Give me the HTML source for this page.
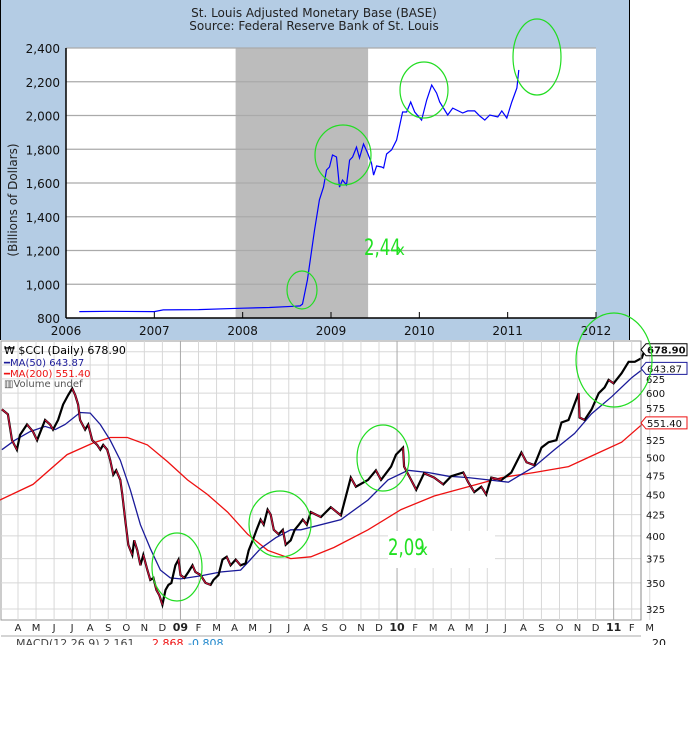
<!DOCTYPE html>
<html><head><meta charset="utf-8">
<style>
html,body{margin:0;padding:0;background:#fff;width:688px;height:733px;overflow:hidden}
svg{display:block;font-family:"DejaVu Sans","Liberation Sans",sans-serif}
</style></head>
<body>
<svg id="chart" width="688" height="733" viewBox="0 0 688 733" xmlns="http://www.w3.org/2000/svg">
<rect x="0" y="0" width="629" height="340" fill="#b4cce4"/>
<line x1="0.5" y1="0" x2="0.5" y2="340" stroke="#000"/>
<line x1="629.5" y1="0" x2="629.5" y2="340" stroke="#000"/>
<text x="314" y="17" font-size="12" text-anchor="middle" fill="#222">St. Louis Adjusted Monetary Base (BASE)</text>
<text x="314" y="30" font-size="12" text-anchor="middle" fill="#222">Source: Federal Reserve Bank of St. Louis</text>
<text transform="translate(17,200) rotate(-90)" font-size="12" text-anchor="middle" fill="#222">(Billions of Dollars)</text>
<g id="topg"></g>
<g id="bottomg"></g>
</svg>
<script>
// ---------- top chart data ----------
const baseYears=[2006.15,2006.5,2007.0,2007.1,2007.5,2008.0,2008.3,2008.6,2008.65,2008.677,2008.733,2008.813,2008.869,2008.915,2008.949,2008.983,2009.017,2009.062,2009.096,2009.130,2009.176,2009.210,2009.244,2009.289,2009.323,2009.368,2009.414,2009.459,2009.482,2009.516,2009.573,2009.595,2009.629,2009.686,2009.743,2009.811,2009.856,2009.902,2009.947,2010.026,2010.083,2010.140,2010.196,2010.230,2010.321,2010.378,2010.491,2010.548,2010.627,2010.684,2010.741,2010.798,2010.888,2010.934,2010.990,2011.047,2011.104,2011.126];
const baseValues=[838,840,838,848,850,858,862,870,872,883,1025,1320,1500,1576,1677,1695,1766,1754,1576,1618,1588,1736,1754,1813,1748,1831,1778,1718,1647,1701,1695,1689,1772,1796,1855,2021,2021,2080,2021,1973,2092,2181,2133,2080,2003,2044,2015,2027,2027,1997,1973,2003,1991,2027,1985,2080,2163,2270];
const topYTicks=[800,1000,1200,1400,1600,1800,2000,2200,2400];
const topYTickLabels=["800","1,000","1,200","1,400","1,600","1,800","2,000","2,200","2,400"];
const topXTicks=[2006,2007,2008,2009,2010,2011,2012];
const recession=[2007.92,2009.42];

// ---------- bottom chart data ----------
const priceMonths=[-0.89,-0.56,-0.33,-0.06,0.11,0.5,0.83,1.06,1.5,1.78,1.94,2.22,2.5,2.78,3.0,3.17,3.33,3.44,3.72,3.89,4.11,4.39,4.56,4.72,4.94,5.11,5.28,5.44,5.67,5.78,5.94,6.11,6.33,6.44,6.61,6.78,6.94,7.17,7.33,7.5,7.67,7.83,8.0,8.17,8.33,8.5,8.72,8.89,9.0,9.22,9.44,9.67,9.83,10.11,10.39,10.67,10.83,11.11,11.33,11.56,11.78,12.06,12.33,12.61,12.78,13.0,13.22,13.44,13.61,13.83,14.0,14.17,14.44,14.67,14.83,15.11,15.33,15.56,15.78,16.0,16.22,16.78,17.33,17.89,18.44,18.72,19.39,19.83,20.11,20.67,20.94,21.33,21.39,21.78,22.06,22.5,23.06,23.56,24.0,24.67,24.94,25.28,25.67,25.94,26.22,26.78,27.33,27.89,28.17,28.61,29.0,29.39,29.83,30.11,30.5,31.06,31.11,31.39,31.78,32.17,32.5,32.72,33.0,33.44,33.83,34.17,34.56,34.72];
const priceValues=[573,565,525,511,533,549,538,525,556,549,541,556,581,597,608,597,581,556,541,549,525,518,511,518,511,496,476,482,469,450,419,390,379,395,384,368,379,363,353,355,343,338,329,343,348,350,368,374,358,355,361,368,361,358,350,348,353,358,374,377,368,374,368,370,384,395,407,419,413,431,425,407,402,407,390,395,407,413,419,413,428,422,434,424,472,460,469,482,469,487,504,514,487,469,456,478,472,463,474,479,466,453,460,450,472,469,479,507,493,489,514,522,525,552,556,600,560,556,573,600,610,623,617,635,656,656,663,678.9];
const ma50Months=[-0.89,-0.17,0.67,1.5,2.06,2.61,3.44,4.0,4.56,5.11,5.67,6.22,6.78,7.33,7.89,8.44,9.0,10.11,11.22,12.33,12.78,13.44,14.28,15.11,15.67,17.89,19.39,20.5,21.61,22.72,23.83,24.94,26.06,27.17,27.72,28.61,29.72,30.83,31.78,32.89,34.0,34.67];
const ma50Values=[511,525,538,546,541,549,568,567,549,525,496,456,413,386,363,355,354,357,361,363,372,386,398,407,407,419,443,469,482,479,474,472,469,466,474,487,511,535,566,594,627,643.87];
const ma200Months=[-1.0,0.83,2.72,4.17,5.11,6.06,7.17,8.28,9.39,10.5,11.61,12.72,13.83,15.11,16.22,17.5,19.39,21.22,23.06,24.94,26.78,28.61,30.5,31.94,33.44,34.67];
const ma200Values=[443,463,504,521,529,529,518,494,469,450,428,402,384,375,377,387,407,431,448,460,472,479,487,504,522,551.4];
const monthLabels=["A","M","J","J","A","S","O","N","D","09","F","M","A","M","J","J","A","S","O","N","D","10","F","M","A","M","J","J","A","S","O","N","D","11","F","M"];
const priceTicks=[325,350,375,400,425,450,475,500,525,550,575,600,625,650,675];
const priceTickLabels=["325","350","375","400","425","450","475","500","525","550","575","600","625","650","675"];
const lastPrice=678.90, lastMa50=643.87, lastMa200=551.40;

const NS="http://www.w3.org/2000/svg";
function mk(tag,attrs,parent,text){const e=document.createElementNS(NS,tag);for(const k in attrs)e.setAttribute(k,attrs[k]);if(text!==undefined)e.textContent=text;parent.appendChild(e);return e;}

// ---------- top chart ----------
const topG=document.getElementById('topg');
const TL=66,TR=596,TT=48,TB=318;
const xT=y=>TL+(y-2006)*(TR-TL)/6;
const yT=v=>TB-(v-800)*(TB-TT)/1600;
let e=mk('rect',{x:TL,y:TT,width:TR-TL,height:TB-TT,fill:'#fff'},topG);

e=mk('rect',{x:xT(recession[0]),y:TT,width:xT(recession[1])-xT(recession[0]),height:TB-TT,fill:'#bcbcbc'},topG);

topYTicks.forEach((t,i)=>{
  if(i>0){const g=mk('line',{x1:TL,x2:TR,y1:yT(t),y2:yT(t),stroke:'#aaa','stroke-width':1.3},topG);
  }
  const l=mk('text',{x:TL-6,y:yT(t)+5,'font-size':12,'text-anchor':'end',fill:'#111'},topG,topYTickLabels[i]);
  
});
topXTicks.forEach(t=>{
  const k=mk('line',{x1:xT(t),x2:xT(t),y1:TB,y2:TB-6,stroke:'#000'},topG);
  
  const l=mk('text',{x:xT(t),y:TB+17,'font-size':12,'text-anchor':'middle',fill:'#111'},topG,String(t));
  
});
e=mk('polyline',{points:baseYears.map((y,i)=>xT(y).toFixed(1)+','+yT(baseValues[i]).toFixed(1)).join(' '),fill:'none',stroke:'#0000ff','stroke-width':1.2},topG);

e=mk('line',{x1:TL,x2:TL,y1:TT,y2:TB,stroke:'#000','stroke-width':1.5},topG);

e=mk('line',{x1:TL,x2:TR,y1:TB,y2:TB,stroke:'#000','stroke-width':1.5},topG);

[[302,290,15,19],[343,155,28,30],[424,90,24,28],[537,57,24,38]].forEach(c=>{
  const o=mk('ellipse',{cx:c[0],cy:c[1],rx:c[2],ry:c[3],fill:'none',stroke:'#22dd22','stroke-width':1.2},topG);
  
});
e=mk('text',{x:364,y:255,'font-size':22,fill:'#22e022',transform:'translate(364,255) scale(0.75,1) translate(-364,-255)'},topG,'2,44');

e=mk('text',{x:396,y:255,'font-size':15,fill:'#22e022'},topG,'x');


// ---------- bottom chart ----------
const botG=document.getElementById('bottomg');
const BL=1,BR=641,BT=341,BB=620;
const xB=m=>18+m*18.05;
const yB=v=>609-352*Math.log(v/325);
e=mk('rect',{x:BL,y:BT,width:BR-BL,height:BB-BT,fill:'#fff',stroke:'#999'},botG);

priceTicks.forEach(t=>{
  const g=mk('line',{x1:BL,x2:BR,y1:yB(t),y2:yB(t),stroke:'#d8d8d8'},botG);
  
});
monthLabels.forEach((lab,i)=>{
  const yr=lab.length===2;
  const g=mk('line',{x1:xB(i),x2:xB(i),y1:BT,y2:BB,stroke:yr?'#aaa':'#d8d8d8'},botG);
  
  const l=mk('text',{x:xB(i),y:631,'font-size':yr?11:10,'font-weight':yr?'bold':'normal','text-anchor':'middle',fill:'#222'},botG,lab);
  
});
priceTicks.forEach((t,i)=>{
  if(t>=650)return;
  const l=mk('text',{x:646,y:yB(t)+4,'font-size':10,fill:'#111'},botG,priceTickLabels[i]);
  
});
e=mk('polyline',{points:ma200Months.map((m,i)=>xB(m).toFixed(1)+','+yB(ma200Values[i]).toFixed(1)).join(' '),fill:'none',stroke:'#ee1111','stroke-width':1.3},botG);

e=mk('polyline',{points:ma50Months.map((m,i)=>xB(m).toFixed(1)+','+yB(ma50Values[i]).toFixed(1)).join(' '),fill:'none',stroke:'#1a1a99','stroke-width':1.3},botG);

e=mk('polyline',{points:priceMonths.map((m,i)=>xB(m).toFixed(1)+','+yB(priceValues[i]).toFixed(1)).join(' '),fill:'none',stroke:'#000','stroke-width':2.2},botG);

for(let i=1;i<priceMonths.length;i++){
  if(priceValues[i]<priceValues[i-1]){
    const s=mk('line',{x1:xB(priceMonths[i-1]),y1:yB(priceValues[i-1]),x2:xB(priceMonths[i]),y2:yB(priceValues[i]),stroke:'#d0103a','stroke-width':1.2},botG);
    
  }
}
e=mk('line',{x1:BR,x2:BR,y1:BT,y2:BB,stroke:'#888'},botG);

function tagBox(v,color,name){
  const y=yB(v);
  const p=mk('path',{d:`M641,${y} l5,-6 h41 v12 h-41 z`,fill:'#fff',stroke:color},botG);
  
  const t=mk('text',{x:647,y:y+4,'font-size':10,'font-weight':name==='last-price'?'bold':'normal',fill:'#111'},botG,v.toFixed(2));
  
}
tagBox(lastMa200,'#ee1111','ma200-value');
tagBox(lastMa50,'#1a1a99','ma50-value');
tagBox(lastPrice,'#000','last-price');
// legend
e=mk('text',{x:4,y:354,'font-size':11,fill:'#000'},botG,'₩ $CCI (Daily) 678.90');

e=mk('text',{x:4,y:366,'font-size':10,fill:'#1a1a99'},botG,'━MA(50) 643.87');

e=mk('text',{x:4,y:377,'font-size':10,fill:'#ee1111'},botG,'━MA(200) 551.40');

e=mk('text',{x:4,y:387,'font-size':10,fill:'#555'},botG,'▥Volume undef');

[[177,567,25,34],[280,524,31,33],[383,458,26,33],[614,360,38,47]].forEach(c=>{
  const o=mk('ellipse',{cx:c[0],cy:c[1],rx:c[2],ry:c[3],fill:'none',stroke:'#22dd22','stroke-width':1.2},botG);
  
});
e=mk('rect',{x:388,y:531,width:107,height:37,fill:'#fff'},botG);

e=mk('text',{x:388,y:555,'font-size':22,fill:'#22e022',transform:'translate(388,555) scale(0.75,1) translate(-388,-555)'},botG,'2,09');

e=mk('text',{x:419,y:555,'font-size':15,fill:'#22e022'},botG,'x');

// MACD strip (cut off)
e=mk('line',{x1:1,x2:641,y1:636,y2:636,stroke:'#aaa'},botG);

const clip=mk('clipPath',{id:'mc'},botG);mk('rect',{x:0,y:636,width:688,height:9},clip);
e=mk('text',{x:16,y:647,'font-size':11,fill:'#444','clip-path':'url(#mc)'},botG,'MACD(12,26,9) 2.161, ');

e=mk('text',{x:152,y:647,'font-size':11,fill:'#ee1111','clip-path':'url(#mc)'},botG,'2.868, ');

e=mk('text',{x:188,y:647,'font-size':11,fill:'#2288cc','clip-path':'url(#mc)'},botG,'-0.808');

e=mk('text',{x:652,y:647,'font-size':11,fill:'#111','clip-path':'url(#mc)'},botG,'20');

</script>
</body></html>
